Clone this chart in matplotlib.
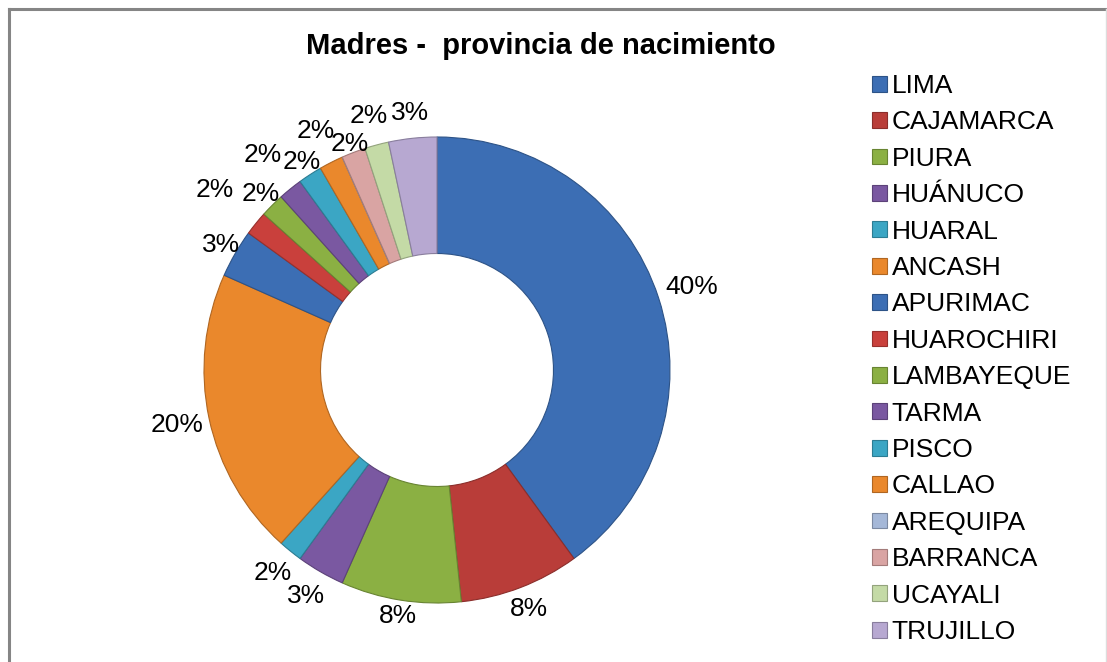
import matplotlib
matplotlib.use("Agg")
import matplotlib.pyplot as plt
import matplotlib.colors as mcolors
from matplotlib.lines import Line2D
import numpy as np

plt.rcParams['font.family'] = ['Liberation Sans', 'DejaVu Sans']

# ---- data ----
title = "Madres -  provincia de nacimiento"
provinces = ["LIMA", "CAJAMARCA", "PIURA", "HUÁNUCO", "HUARAL", "ANCASH",
             "APURIMAC", "HUAROCHIRI", "LAMBAYEQUE", "TARMA", "PISCO",
             "CALLAO", "AREQUIPA", "BARRANCA", "UCAYALI", "TRUJILLO"]
counts = [24, 5, 5, 2, 1, 12, 2, 1, 1, 1, 1, 1, 0, 1, 1, 2]

# ---- style ----
colors = ["#3C6EB4", "#B93D39", "#8BB043", "#7A58A1", "#3BA6C4", "#EA882C",
          "#3C6EB4", "#C9403C", "#8BB043", "#7A58A1", "#3BA6C4", "#EA882C",
          "#A5B8D8", "#D9A4A3", "#C4DAA6", "#B7A8D1"]
label_dist = [1.15, 1.10, 1.07, 1.12, 1.12, 1.14,
              1.07, 1.23, 1.07, 1.19, 1.065, 1.15, 1.0, 1.04, 1.13, 1.11]

W, H = 1107, 662
fig = plt.figure(figsize=(W / 100, H / 100), dpi=100)
fig.patch.set_facecolor("white")

cx, cy, R = 437, 370, 233
ax = fig.add_axes([(cx - R) / W, (H - cy - R) / H, 2 * R / W, 2 * R / H])

def darker(c, f=0.8):
    r, g, b = mcolors.to_rgb(c)
    return (r * f, g * f, b * f)

wedges, _ = ax.pie(counts, colors=colors, startangle=90, counterclock=False,
                   radius=1.0, wedgeprops=dict(width=0.5, linewidth=0.8))
for w, c in zip(wedges, colors):
    w.set_edgecolor(darker(c, 0.75))

total = sum(counts)

# percent labels
for w, v, d in zip(wedges, counts, label_dist):
    if v == 0:
        continue
    ang = np.deg2rad((w.theta1 + w.theta2) / 2)
    pct = 100.0 * v / total
    ax.text(d * np.cos(ang), d * np.sin(ang), f"{pct:.0f}%",
            ha="center", va="center", fontsize=19, color="black")

ax.set_xlim(-1, 1)
ax.set_ylim(-1, 1)
ax.set_aspect("equal")
ax.axis("off")

# title
fig.text(541 / W, 1 - 46 / H, title, ha="center", va="center",
         fontsize=21, fontweight="bold", color="black")

# legend
leg = fig.legend(wedges, provinces, loc="upper left",
                 bbox_to_anchor=(872 / W, 1 - 74 / H),
                 bbox_transform=fig.transFigure, frameon=False,
                 fontsize=19, handlelength=0.55, handleheight=0.55,
                 handletextpad=0.2, labelspacing=0.47,
                 borderpad=0, borderaxespad=0)

# outer frame lines (chart border)
fig.add_artist(Line2D([9 / W, 9 / W], [0, 1 - 9 / H], transform=fig.transFigure,
                      color="#858585", linewidth=2.2))
fig.add_artist(Line2D([9 / W, 1], [1 - 9 / H, 1 - 9 / H], transform=fig.transFigure,
                      color="#858585", linewidth=2.2))
fig.add_artist(Line2D([1105.5 / W, 1105.5 / W], [0, 1 - 9 / H], transform=fig.transFigure,
                      color="#DDDDDD", linewidth=1.0))

fig.savefig("out.png", dpi=100, facecolor="white")
